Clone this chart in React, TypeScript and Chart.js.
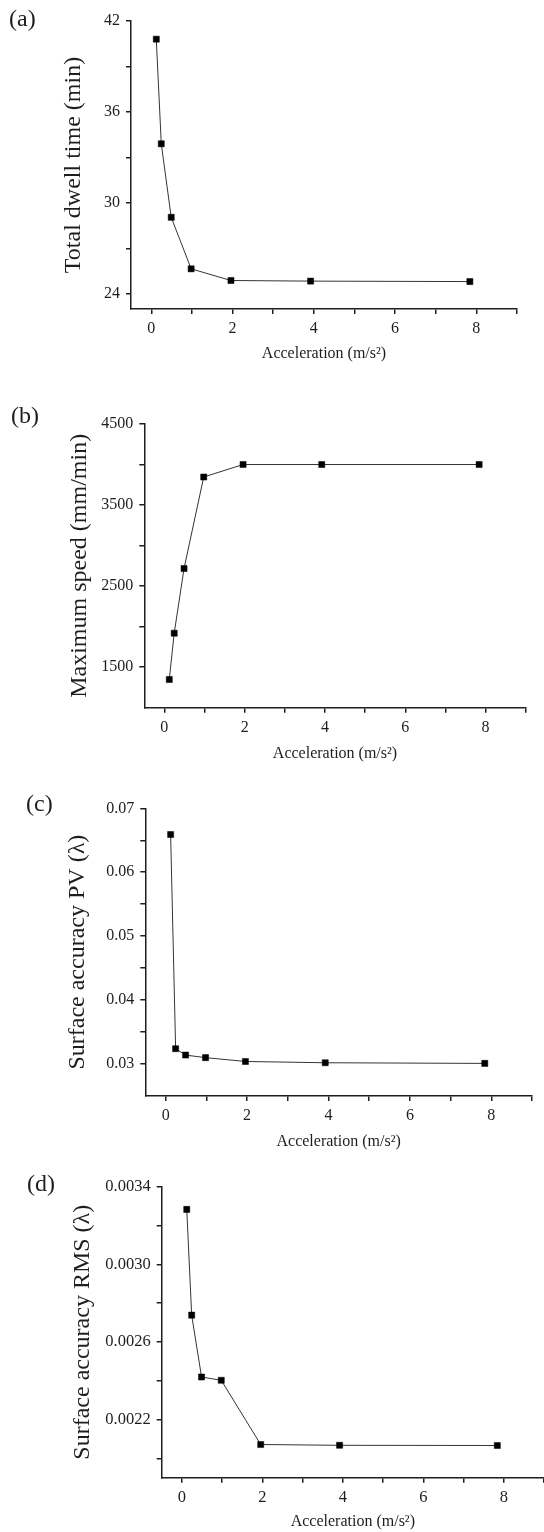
import React, { useEffect, useRef } from 'react';
import { Chart, registerables } from 'chart.js';

Chart.register(...registerables);

// ---------- data ----------
const ACCELERATION = [0.1225, 0.245, 0.49, 0.98, 1.96, 3.92, 7.84];
const DWELL_TIME = [40.8, 33.9, 29.05, 25.65, 24.88, 24.84, 24.81];
const MAX_SPEED = [1348, 1919, 2717, 3846, 4000, 4000, 4000];
const PV_ACCURACY = [0.0659, 0.0324, 0.0314, 0.031, 0.0304, 0.0302, 0.0301];
const RMS_ACCURACY = [0.003283, 0.002738, 0.002419, 0.002402, 0.002071, 0.002067, 0.002066];

const X_TICKS = [0, 1, 2, 3, 4, 5, 6, 7, 8, 9];
const X_TICK_LABELS = ['0', '', '2', '', '4', '', '6', '', '8', ''];

const A_Y_TICKS = [24, 27, 30, 33, 36, 39, 42];
const A_Y_LABELS = ['24', '', '30', '', '36', '', '42'];
const B_Y_TICKS = [1500, 2000, 2500, 3000, 3500, 4000, 4500];
const B_Y_LABELS = ['1500', '', '2500', '', '3500', '', '4500'];
const C_Y_TICKS = [0.03, 0.035, 0.04, 0.045, 0.05, 0.055, 0.06, 0.065, 0.07];
const C_Y_LABELS = ['0.03', '', '0.04', '', '0.05', '', '0.06', '', '0.07'];
const D_Y_TICKS = [0.002, 0.0022, 0.0024, 0.0026, 0.0028, 0.003, 0.0032, 0.0034];
const D_Y_LABELS = ['', '0.0022', '', '0.0026', '', '0.0030', '', '0.0034'];

const X_TITLE = 'Acceleration (m/s\u00B2)';

// ---------- layout ----------
const FONT = "'Liberation Serif', 'Times New Roman', Times, serif";
const INK = '#1e1e1e';

type PanelCfg = {
  letter: string;
  letterLeft: number;
  letterTop: number;
  top: number;
  width: number;
  height: number;
  plotLeft: number;
  plotRight: number;
  plotTop: number;
  plotBottom: number;
  yMin: number;
  yMax: number;
  yTicks: number[];
  yLabels: string[];
  yTitle: string;
  yTitleX: number;
  xTitleY: number;
  values: number[];
  tickSize: number;
};

const PANELS: PanelCfg[] = [
  {
    letter: '(a)', letterLeft: 9, letterTop: 5.5,
    top: 0, width: 544, height: 380,
    plotLeft: 131, plotRight: 517, plotTop: 21, plotBottom: 309,
    yMin: 23, yMax: 42, yTicks: A_Y_TICKS, yLabels: A_Y_LABELS,
    yTitle: 'Total dwell time (min)', yTitleX: 74, xTitleY: 354,
    values: DWELL_TIME, tickSize: 16,
  },
  {
    letter: '(b)', letterLeft: 11, letterTop: 402.5,
    top: 380, width: 544, height: 400,
    plotLeft: 144.3, plotRight: 525.7, plotTop: 44, plotBottom: 327.7,
    yMin: 1000, yMax: 4500, yTicks: B_Y_TICKS, yLabels: B_Y_LABELS,
    yTitle: 'Maximum speed (mm/min)', yTitleX: 80, xTitleY: 373.3,
    values: MAX_SPEED, tickSize: 16,
  },
  {
    letter: '(c)', letterLeft: 26, letterTop: 790.5,
    top: 780, width: 544, height: 380,
    plotLeft: 145.3, plotRight: 532, plotTop: 28.3, plotBottom: 316,
    yMin: 0.025, yMax: 0.07, yTicks: C_Y_TICKS, yLabels: C_Y_LABELS,
    yTitle: 'Surface accuracy PV (\u03BB)', yTitleX: 78, xTitleY: 362,
    values: PV_ACCURACY, tickSize: 16,
  },
  {
    letter: '(d)', letterLeft: 27, letterTop: 1170.5,
    top: 1160, width: 600, height: 372,
    plotLeft: 161.7, plotRight: 544, plotTop: 26.7, plotBottom: 317.7,
    yMin: 0.0019, yMax: 0.0034, yTicks: D_Y_TICKS, yLabels: D_Y_LABELS,
    yTitle: 'Surface accuracy RMS (\u03BB)', yTitleX: 83, xTitleY: 362,
    values: RMS_ACCURACY, tickSize: 16.5,
  },
];

const TITLE_Y_SIZE = 24;
const TITLE_X_SIZE = 16;

function Panel({ p }: { p: PanelCfg }) {
  const ref = useRef<HTMLCanvasElement | null>(null);

  useEffect(() => {
    if (!ref.current) return;
    const xTitleLH = TITLE_X_SIZE * 1.2;
    const yTitleLH = TITLE_Y_SIZE * 1.2;
    const chart = new Chart(ref.current, {
      type: 'line',
      data: {
        datasets: [
          {
            data: ACCELERATION.map((x, i) => ({ x, y: p.values[i] })),
            borderColor: '#333',
            borderWidth: 1,
            pointStyle: 'rect',
            pointRadius: 4.3,
            pointBackgroundColor: '#000',
            pointBorderColor: '#000',
            pointBorderWidth: 0.5,
            tension: 0,
            fill: false,
          },
        ],
      },
      options: {
        responsive: false,
        animation: false,
        events: [],
        layout: {
          padding: { left: 0, top: p.plotTop, right: p.width - p.plotRight, bottom: 0 },
        },
        plugins: { legend: { display: false }, tooltip: { enabled: false } },
        scales: {
          x: {
            type: 'linear',
            min: -0.5,
            max: 9,
            bounds: 'data',
            afterBuildTicks: (ax: any) => {
              ax.ticks = X_TICKS.map((v) => ({ value: v }));
            },
            afterFit: (ax: any) => {
              ax.height = p.height - p.plotBottom;
            },
            ticks: {
              autoSkip: false,
              maxRotation: 0,
              padding: 5,
              color: INK,
              font: { family: FONT, size: p.tickSize },
              callback: (_v: any, i: number) => X_TICK_LABELS[i],
            },
            grid: {
              display: true,
              drawOnChartArea: false,
              drawTicks: true,
              tickLength: 5,
              color: INK,
              lineWidth: 1.5,
            },
            border: { display: true, color: INK, width: 1.5 },
            title: {
              display: true,
              text: X_TITLE,
              color: INK,
              font: { family: FONT, size: TITLE_X_SIZE, lineHeight: 1.2 },
              padding: { top: 0, bottom: p.height - p.xTitleY - xTitleLH / 2 },
            },
          },
          y: {
            type: 'linear',
            min: p.yMin,
            max: p.yMax,
            bounds: 'data',
            afterBuildTicks: (ax: any) => {
              ax.ticks = p.yTicks.map((v) => ({ value: v }));
            },
            afterFit: (ax: any) => {
              ax.width = p.plotLeft;
            },
            ticks: {
              autoSkip: false,
              padding: 6,
              color: INK,
              font: { family: FONT, size: p.tickSize },
              callback: (_v: any, i: number) => p.yLabels[i],
            },
            grid: {
              display: true,
              drawOnChartArea: false,
              drawTicks: true,
              tickLength: 5,
              color: INK,
              lineWidth: 1.5,
            },
            border: { display: true, color: INK, width: 1.5 },
            title: {
              display: true,
              text: p.yTitle,
              color: INK,
              font: { family: FONT, size: TITLE_Y_SIZE, lineHeight: 1.2 },
              padding: { top: p.yTitleX - yTitleLH / 2, bottom: 0 },
            },
          },
        },
      } as any,
    });
    return () => chart.destroy();
  }, [p]);

  return (
    <div
      style={{
        position: 'absolute',
        left: 0,
        top: p.top,
        width: p.width,
        height: p.height,
      }}
    >
      <canvas
        ref={ref}
        width={p.width}
        height={p.height}
        style={{ width: p.width, height: p.height, display: 'block' }}
      />
    </div>
  );
}

export default function App() {
  return (
    <div
      style={{
        position: 'absolute',
        left: 0,
        top: 0,
        width: 544,
        height: 1532,
        overflow: 'hidden',
        background: '#fff',
      }}
    >
      {PANELS.map((p) => (
        <Panel key={p.letter} p={p} />
      ))}
      {PANELS.map((p) => (
        <div
          key={p.letter + '-lbl'}
          style={{
            position: 'absolute',
            left: p.letterLeft,
            top: p.letterTop,
            fontFamily: FONT,
            fontSize: 24,
            lineHeight: '24px',
            color: INK,
            whiteSpace: 'nowrap',
          }}
        >
          {p.letter}
        </div>
      ))}
    </div>
  );
}
